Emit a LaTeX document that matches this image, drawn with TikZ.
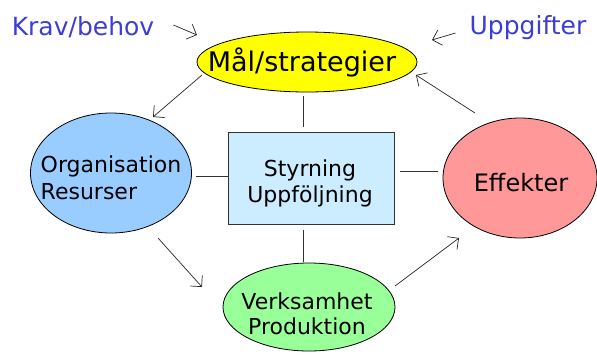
\documentclass[tikz,border=0pt]{standalone}
\usepackage{fontspec}
\setmainfont{DejaVu Sans}
\usetikzlibrary{shapes.geometric,arrows.meta}
\definecolor{labelblue}{HTML}{3C3CD6}
\definecolor{goalyellow}{HTML}{FFFF00}
\definecolor{orgblue}{HTML}{99CCFF}
\definecolor{ctrlblue}{HTML}{CCECFF}
\definecolor{effred}{HTML}{FF9999}
\definecolor{prodgreen}{HTML}{99FF99}
\tikzset{
  x=1pt, y=-1pt,
  blob/.style={ellipse, draw=black, line width=0.8pt, inner sep=0pt},
  txt/.style={inner sep=0pt, font=\fontsize{22}{26}\selectfont, align=center},
  toplabel/.style={inner sep=0pt, text=labelblue, font=\fontsize{25}{28}\selectfont},
  link/.style={draw=black!80, line width=0.7pt},
  flow/.style={draw=black!85, line width=0.7pt, -{Straight Barb[length=8pt,width=16pt,line width=0.7pt]}},
}
\begin{document}
\begin{tikzpicture}
\useasboundingbox (0,0) rectangle (597,354);

% outer labels
\node[toplabel] (krav) at (83,27) {Krav/behov};
\node[toplabel] (uppg) at (528,28) {Uppgifter};

% shapes
\node[blob, fill=goalyellow, minimum width=220pt, minimum height=60pt] (goal) at (307,62) {};
\node[txt, font=\fontsize{27}{30}\selectfont] (goaltxt) at (302,62) {Mål/strategier};

\node[blob, fill=orgblue, minimum width=161pt, minimum height=120pt] (org) at (111,173) {};
\node[txt, align=left, font=\fontsize{22}{27}\selectfont] (orgtxt) at (111,178) {Organisation\\Resurser};

\node[draw=black!80, line width=0.8pt, fill=ctrlblue, minimum width=166pt, minimum height=92pt, inner sep=0pt] (ctrl) at (311,178) {};
\node[txt] (ctrltxt) at (310,183) {Styrning\\Uppföljning};

\node[blob, fill=effred, minimum width=154pt, minimum height=120pt] (eff) at (520,178) {};
\node[txt, font=\fontsize{24}{28}\selectfont] (efftxt) at (521,183) {Effekter};

\node[blob, fill=prodgreen, minimum width=172pt, minimum height=88pt] (prod) at (309,307) {};
\node[txt, font=\fontsize{22}{25}\selectfont] (prodtxt) at (307,314) {Verksamhet\\Produktion};

% arrow end points just off the shapes
\coordinate (kravend) at (197,35);
\coordinate (uppgend) at (432,40);
\coordinate (g2o-a) at (202,75);
\coordinate (g2o-b) at (153,117);
\coordinate (o2p-a) at (158,238);
\coordinate (o2p-b) at (202,287);
\coordinate (p2e-a) at (395,286);
\coordinate (p2e-b) at (459,238);
\coordinate (e2g-a) at (475,113);
\coordinate (e2g-b) at (416,75);

% plain links from the control box
\draw[link] (ctrl.north -| 303,0) ++(0,-5) -- (303,96);
\draw[link] (ctrl.south -| 303,0) ++(0,6) -- (303,262);
\draw[link] (ctrl.west) ++(0,-2) -- (196,176);
\draw[link] (ctrl.east) ++(6,-7) -- (438,171);

% flow arrows
\draw[flow] (krav.east) ++(19,-2) -- (kravend);
\draw[flow] (uppg.west) ++(-14,5) -- (uppgend);
\draw[flow] (g2o-a) -- (g2o-b);
\draw[flow] (o2p-a) -- (o2p-b);
\draw[flow] (p2e-a) -- (p2e-b);
\draw[flow] (e2g-a) -- (e2g-b);
\end{tikzpicture}
\end{document}
